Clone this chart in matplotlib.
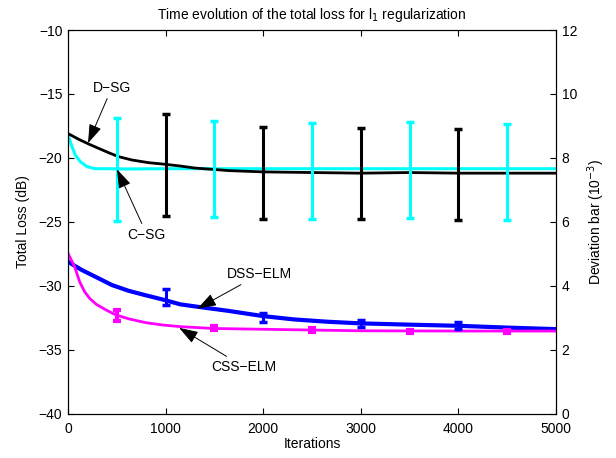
import matplotlib
matplotlib.use("Agg")
import matplotlib.pyplot as plt

plt.rcParams['font.family'] = ['Liberation Sans', 'DejaVu Sans']
plt.rcParams['font.size'] = 10

# ---- data ----
dsg_iter = [0, 110, 212, 314, 417, 519, 656, 826, 963, 1150, 1300, 1650, 2000, 2500, 3000, 3500, 4000, 4500, 5000]
dsg_loss = [-18.1, -18.55, -18.92, -19.26, -19.6, -19.91, -20.17, -20.38, -20.48, -20.64, -20.8, -21.0, -21.1, -21.15, -21.2, -21.15, -21.2, -21.2, -21.2]

csg_iter = [0, 41, 75, 126, 195, 280, 400, 600, 1000, 2000, 3000, 4000, 5000]
csg_loss = [-18.2, -19.13, -19.78, -20.3, -20.69, -20.85, -20.85, -20.87, -20.85, -20.85, -20.85, -20.85, -20.85]

dss_iter = [0, 143, 280, 450, 620, 790, 963, 1150, 1326, 1633, 1997, 2315, 2655, 2996, 3500, 4000, 4500, 5000]
dss_loss = [-28.13, -28.78, -29.3, -29.95, -30.4, -30.74, -31.07, -31.46, -31.65, -31.96, -32.38, -32.64, -32.82, -32.95, -33.05, -33.14, -33.28, -33.4]

css_iter = [0, 68, 119, 170, 221, 290, 392, 494, 630, 801, 971, 1159, 1496, 2491, 3000, 4000, 5000]
css_loss = [-27.47, -28.52, -29.69, -30.47, -30.99, -31.46, -31.91, -32.3, -32.61, -32.9, -33.08, -33.21, -33.35, -33.47, -33.53, -33.55, -33.55]

# deviation bars (centre, half-length) in dB
csg_bar_iter = [500, 1500, 2500, 3500, 4500]
csg_bar_mid = [-20.94, -20.87, -21.0, -20.96, -21.1]
csg_bar_half = [4.04, 3.76, 3.76, 3.75, 3.76]

dsg_bar_iter = [1000, 2000, 3000, 4000]
dsg_bar_mid = [-20.55, -21.17, -21.23, -21.3]
dsg_bar_half = [3.98, 3.62, 3.55, 3.55]

dss_bar_iter = [1000, 2000, 3000, 4000]
dss_bar_mid = [-30.9, -32.5, -32.95, -33.13]
dss_bar_half = [0.61, 0.38, 0.25, 0.25]

css_bar_iter = [500, 1500, 2500, 3500, 4500]
css_bar_mid = [-32.36, -33.33, -33.47, -33.55, -33.55]
css_bar_half = [0.43, 0.15, 0.12, 0.12, 0.12]

x_ticks = [0, 1000, 2000, 3000, 4000, 5000]
y_ticks = [-40, -35, -30, -25, -20, -15, -10]
y2_ticks = [0, 2, 4, 6, 8, 10, 12]

# ---- figure ----
fig = plt.figure(figsize=(6.16, 4.58), dpi=100)
ax = fig.add_axes([68/616, 1-413.5/458, (556-68)/616, (413.5-30)/458])

ax.plot(csg_iter, csg_loss, color=(0, 1, 1), lw=2.2, zorder=2)
ax.plot(dsg_iter, dsg_loss, color='k', lw=2.0, zorder=3)
ax.plot(dss_iter, dss_loss, color=(0, 0, 1), lw=3.0, zorder=2)
ax.plot(css_iter, css_loss, color=(1, 0, 1), lw=2.0, zorder=3)

ax.errorbar(csg_bar_iter, csg_bar_mid, yerr=csg_bar_half, fmt='none', ecolor=(0, 1, 1),
            elinewidth=2.2, capsize=2.6, capthick=2.5, zorder=4)
ax.errorbar(dsg_bar_iter, dsg_bar_mid, yerr=dsg_bar_half, fmt='none', ecolor='k',
            elinewidth=2.2, capsize=2.6, capthick=2.5, zorder=4)
ax.errorbar(dss_bar_iter, dss_bar_mid, yerr=dss_bar_half, fmt='none', ecolor=(0, 0, 1),
            elinewidth=2.2, capsize=2.6, capthick=2.5, zorder=4)
ax.errorbar(css_bar_iter, css_bar_mid, yerr=css_bar_half, fmt='none', ecolor=(1, 0, 1),
            elinewidth=3, capsize=2.6, capthick=3, zorder=4)

ax.set_xlim(0, 5000)
ax.set_ylim(-40, -10)
ax.set_xticks(x_ticks)
ax.set_yticks(y_ticks)
ax.set_yticklabels([f"\u2212{abs(v)}" for v in y_ticks])
ax.tick_params(direction='in', top=True, length=4, width=0.8)
ax.tick_params(axis='x', pad=6)
ax.tick_params(axis='y', pad=4)
ax.set_xlabel("Iterations", labelpad=1)
ax.set_ylabel("Total Loss (dB)", labelpad=6)
ax.set_title("Time evolution of the total loss for l$_1$ regularization", fontsize=10, pad=8)

ax2 = ax.twinx()
ax2.set_ylim(0, 12)
ax2.set_yticks(y2_ticks)
ax2.tick_params(direction='in', length=4, width=0.8, pad=4)
ax2.set_ylabel("Deviation bar (10$^{-3}$)", labelpad=6)

arrow = dict(arrowstyle='-|>,head_length=0.65,head_width=0.22', color='k', lw=0.7,
             mutation_scale=18, shrinkA=1, shrinkB=0)
ax.annotate("D\u2212SG", xy=(205, -18.85), xytext=(450, -14.5), ha='center', va='center',
            arrowprops=arrow, zorder=6)
ax.annotate("C\u2212SG", xy=(502, -20.9), xytext=(808, -26.0), ha='center', va='center',
            arrowprops=arrow, zorder=6)
ax.annotate("DSS\u2212ELM", xy=(1326, -31.8), xytext=(1966, -29.1), ha='center', va='center',
            arrowprops=arrow, zorder=6)
ax.annotate("CSS\u2212ELM", xy=(1139, -33.3), xytext=(1803, -36.35), ha='center', va='center',
            arrowprops=arrow, zorder=6)

fig.savefig("out.png", dpi=100)
